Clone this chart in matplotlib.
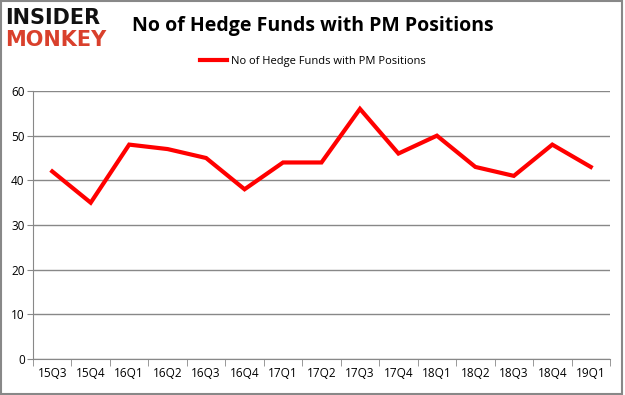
import matplotlib
matplotlib.use("Agg")
import matplotlib.pyplot as plt
from matplotlib.patches import Rectangle

categories = ["15Q3", "15Q4", "16Q1", "16Q2", "16Q3", "16Q4", "17Q1", "17Q2",
              "17Q3", "17Q4", "18Q1", "18Q2", "18Q3", "18Q4", "19Q1"]
values = [42, 35, 48, 47, 45, 38, 44, 44, 56, 46, 50, 43, 41, 48, 43]
series_name = "No of Hedge Funds with PM Positions"
yticks = [0, 10, 20, 30, 40, 50, 60]

plt.rcParams['font.family'] = ['Open Sans', 'DejaVu Sans']

fig = plt.figure(figsize=(6.25, 3.95), dpi=100)
ax = fig.add_axes([0.0528, 0.0911, 0.9232, 0.6785])

x = list(range(len(categories)))
ax.plot(x, values, color="#ff0000", lw=3.0, solid_joinstyle="miter", label=series_name)
ax.set_xlim(-0.5, len(categories) - 0.5)
ax.set_ylim(0, 60)
ax.set_yticks(yticks)
ax.set_yticklabels([str(v) for v in yticks], fontsize=8.5)
ax.yaxis.grid(True, color="#888888", lw=1)
ax.set_axisbelow(True)
ax.tick_params(axis='y', length=4, color="#888888", pad=2)
ax.set_xticks(x)
ax.set_xticklabels(categories, fontsize=8.5)
ax.tick_params(axis='x', length=0, pad=6)
ax.set_xticks([i - 0.5 for i in range(len(categories) + 1)], minor=True)
ax.tick_params(axis='x', which='minor', length=5, color="#888888")
for s in ["top", "right"]:
    ax.spines[s].set_visible(False)
ax.spines["left"].set_color("#888888")
ax.spines["bottom"].set_color("#888888")

fig.legend(loc="center", bbox_to_anchor=(0.5, 0.845), frameon=False, fontsize=8,
           handlelength=2.5, handletextpad=0.3)

fig.text(0.5, 0.935, "No of Hedge Funds with PM Positions", ha="center", va="center",
         fontsize=14, fontweight="bold")
fig.text(0.008, 0.955, "INSIDER", ha="left", va="center", fontsize=15, fontweight="black",
         color="#111111", family="DejaVu Sans")
fig.text(0.008, 0.9, "MONKEY", ha="left", va="center", fontsize=15, fontweight="black",
         color="#d9402c", family="DejaVu Sans")

fig.patches.append(Rectangle((0.001, 0.002), 0.994, 0.995, transform=fig.transFigure,
                             fill=False, edgecolor="#888888", lw=1.5))
fig.savefig("out.png", dpi=100)
